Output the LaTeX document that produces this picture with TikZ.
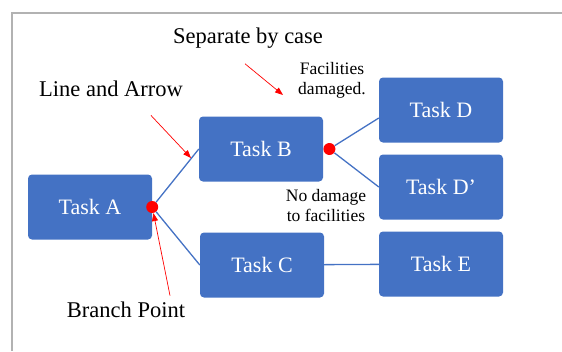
\documentclass[tikz,border=0pt]{standalone}
\usepackage{fontspec}
\setmainfont{Liberation Serif}
\usetikzlibrary{arrows.meta, positioning}
\definecolor{taskblue}{HTML}{4472C4}

\begin{document}
\begin{tikzpicture}[x=1pt, y=-1pt,
    >={Triangle[length=8pt, width=6pt]},
    task/.style={rectangle, rounded corners=4pt, fill=taskblue, text=white,
      minimum width=124pt, minimum height=65pt, font=\fontsize{22}{26}\selectfont},
    branch/.style={circle, fill=red, inner sep=0pt, minimum size=12pt},
    link/.style={-, taskblue, line width=1.3pt},
    note/.style={font=\fontsize{22.5}{27}\selectfont},
    case/.style={font=\fontsize{17.5}{20}\selectfont, align=center, inner sep=1pt},
    pointer/.style={->, red, line width=0.7pt},
  ]
  \useasboundingbox (0,0) rectangle (562,351);
  \draw[gray!60, line width=1.2pt] (12,351) -- (12,13) -- (562,13);

  % tasks
  \node[task] (taskA) at (90,207) {Task A};
  \node[task] (taskB) at (261,149) {Task B};
  \node[task] (taskC) at (262,265) {Task C};
  \node[task] (taskD) at (441,110) {Task D};
  \node[task] (taskDp) at (441,187) {Task D’};
  \node[task] (taskE) at (441,264) {Task E};

  % branch points
  \node[branch] (brA) at (taskA.east) {};
  \node[branch, right=0pt of taskB] (brB) {};

  \draw[link] (brA) -- (taskB.west);
  \draw[link] (brA) -- (taskC.west);
  \draw[link] (brB) -- ([yshift=-8pt]taskD.west);
  \draw[link] (brB) -- (taskDp.west);
  \draw[link] (taskC) -- (taskE);

  % labels
  \node[note] (sepLbl) at (248,38) {Separate by case};
  \node[note] (lineLbl) at (111,89) {Line and Arrow};
  \node[note] (bpLbl) at (126,310) {Branch Point};
  \node[case] (dmgLbl) at (332,80) {Facilities\\damaged.};
  \node[case] (noDmgLbl) at (326,206) {No damage\\to facilities};

  \coordinate (sepTip) at (283,95);
  \coordinate (lineTip) at (191,158);
  \draw[pointer] ([shift={(-3,12)}]sepLbl.south) -- (sepTip);
  \draw[pointer] ([shift={(40,15)}]lineLbl.south) -- (lineTip);
  \draw[pointer] ([shift={(44,-3)}]bpLbl.north) -- (brA);
\end{tikzpicture}
\end{document}
